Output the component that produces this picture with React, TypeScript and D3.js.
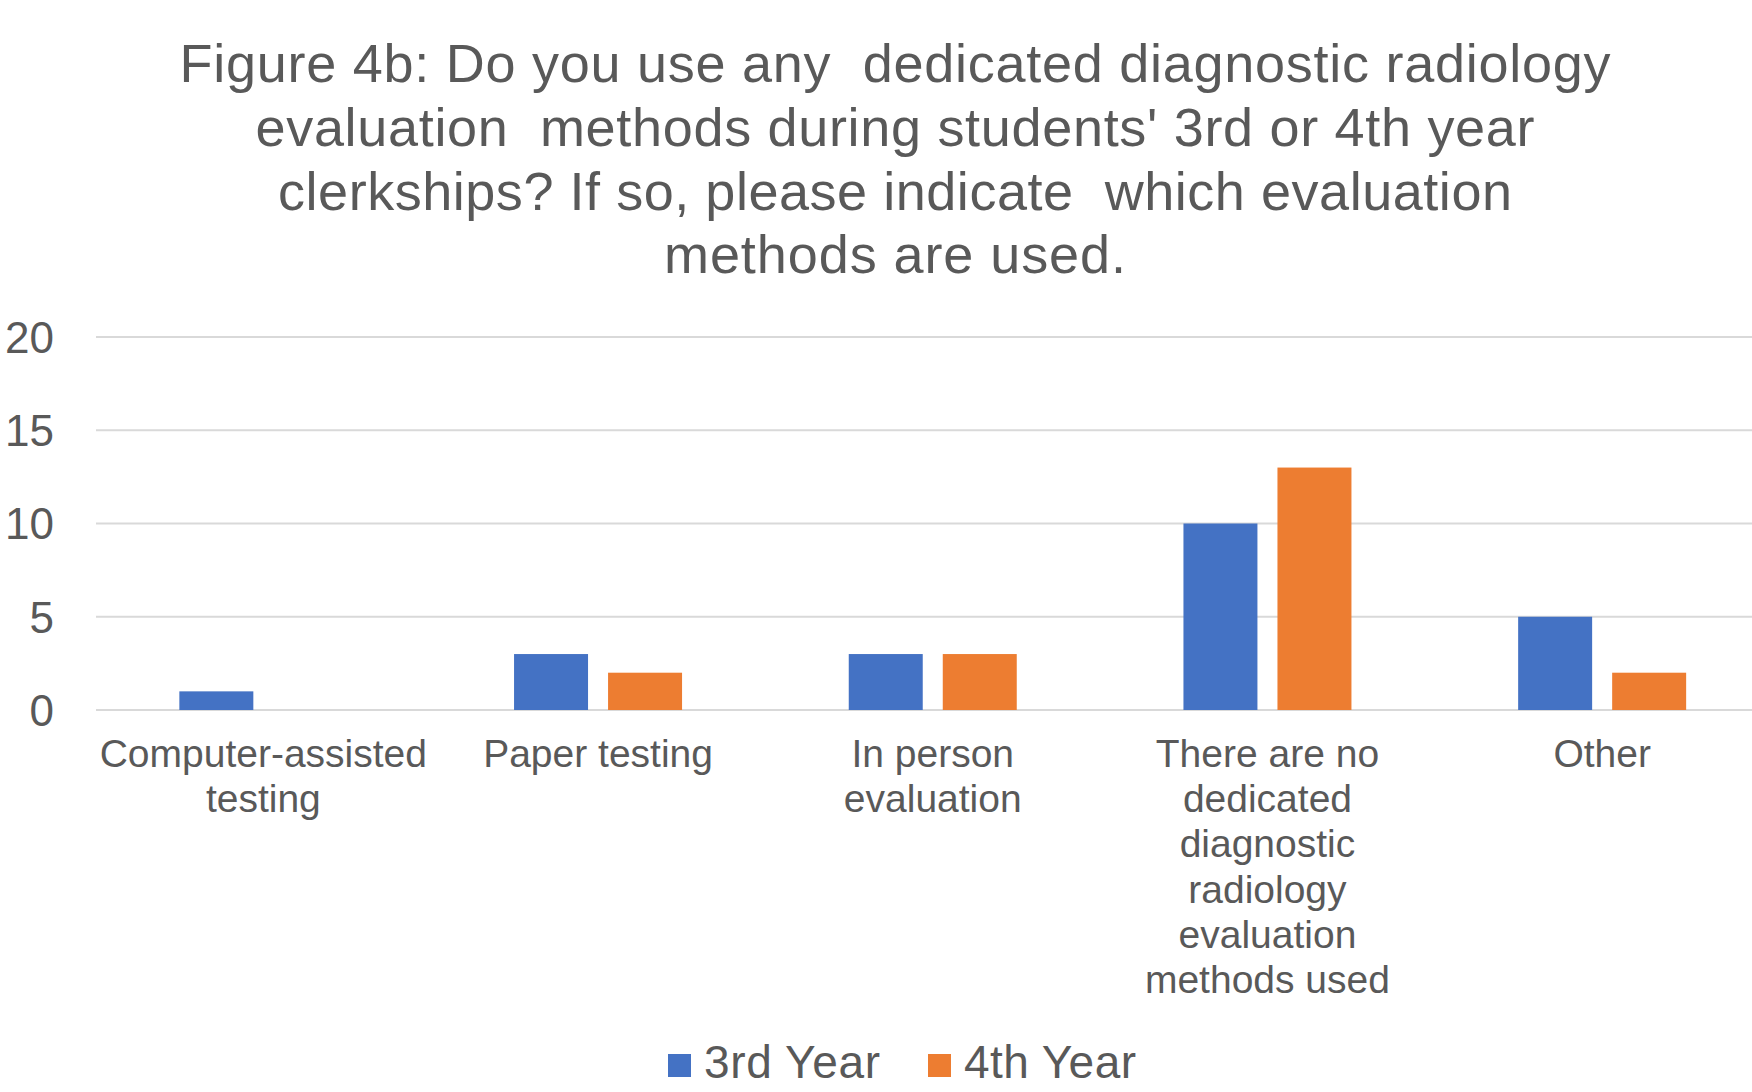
import React from "react";
import * as d3 from "d3";

// Survey answers per evaluation method
const categories = [
  "Computer-assisted testing",
  "Paper testing",
  "In person evaluation",
  "There are no dedicated diagnostic radiology evaluation methods used",
  "Other",
];
const categoryLines = [
  ["Computer-assisted", "testing"],
  ["Paper testing"],
  ["In person", "evaluation"],
  ["There are no", "dedicated", "diagnostic", "radiology", "evaluation", "methods used"],
  ["Other"],
];
const seriesNames = ["3rd Year", "4th Year"];
const thirdYear = [1, 3, 3, 10, 5];
const fourthYear = [0, 2, 3, 13, 2];
const yTicks = [0, 5, 10, 15, 20];
const titleLines = [
  "Figure 4b: Do you use any  dedicated diagnostic radiology",
  "evaluation  methods during students' 3rd or 4th year",
  "clerkships? If so, please indicate  which evaluation",
  "methods are used.",
];

const W = 1752;
const H = 1092;
const FONT = "'Liberation Sans', Arial, sans-serif";
const TEXT = "#595959";
const GRID = "#D9D9D9";
const COLORS = ["#4472C4", "#ED7D31"];

export default function App() {
  const x0 = d3.scaleBand<string>().domain(categories).range([96, 1769.5]).padding(0);
  const groupW = 168;
  const bw0 = x0.bandwidth();
  const x1 = d3
    .scaleBand<string>()
    .domain(seriesNames)
    .range([(bw0 - groupW) / 2, (bw0 + groupW) / 2])
    .paddingInner(0.213)
    .paddingOuter(0);
  const y = d3.scaleLinear().domain([0, 20]).range([710, 337]);

  const series = [thirdYear, fourthYear];
  const titleWidths = [1431, 1279, 1234, 462];
  const titleBaselines = [82, 146, 210, 273];
  const legendWidths = [176, 172];

  return (
    <svg
      width={W}
      height={H}
      viewBox={`0 0 ${W} ${H}`}
      style={{ position: "absolute", left: 0, top: 0, background: "#fff" }}
    >
      <rect width={W} height={H} fill="#fff" />
      {/* title */}
      <g fontFamily={FONT} fontSize={54} fill={TEXT} textAnchor="middle">
        {titleLines.map((t, i) => (
          <text
            key={i}
            x={895}
            y={titleBaselines[i]}
            textLength={titleWidths[i]}
            lengthAdjust="spacing"
            style={{ whiteSpace: "pre" }}
          >
            {t}
          </text>
        ))}
      </g>

      {/* gridlines */}
      <g>
        {yTicks.map((t) => (
          <line
            key={t}
            x1={x0.range()[0]}
            x2={x0.range()[1]}
            y1={y(t)}
            y2={y(t)}
            stroke={GRID}
            strokeWidth={2}
          />
        ))}
      </g>

      {/* y tick labels */}
      <g fontFamily={FONT} fontSize={44} fill={TEXT} textAnchor="end">
        {yTicks.map((t) => (
          <text key={t} x={54} y={y(t)} dy="0.36em">
            {t}
          </text>
        ))}
      </g>

      {/* bars */}
      {series.map((vals, si) => (
        <g key={si} fill={COLORS[si]}>
          {categories.map((c, ci) => {
            const v = vals[ci];
            if (!v) return null;
            return (
              <rect
                key={c}
                x={(x0(c) ?? 0) + (x1(seriesNames[si]) ?? 0)}
                y={y(v)}
                width={x1.bandwidth()}
                height={y(0) - y(v)}
              />
            );
          })}
        </g>
      ))}

      {/* category labels */}
      <g fontFamily={FONT} fontSize={39} fill={TEXT} textAnchor="middle">
        {categories.map((c, ci) => (
          <text key={c} x={(x0(c) ?? 0) + bw0 / 2} y={767}>
            {categoryLines[ci].map((ln, li) => (
              <tspan key={li} x={(x0(c) ?? 0) + bw0 / 2} dy={li === 0 ? 0 : 45.2}>
                {ln}
              </tspan>
            ))}
          </text>
        ))}
      </g>

      {/* legend */}
      <g fontFamily={FONT} fontSize={46} fill={TEXT}>
        {seriesNames.map((s, i) => {
          const lx = [668, 928][i];
          return (
            <g key={s}>
              <rect x={lx} y={1054} width={23} height={23} fill={COLORS[i]} />
              <text
                x={lx + 36}
                y={1078}
                textLength={legendWidths[i]}
                lengthAdjust="spacing"
              >
                {s}
              </text>
            </g>
          );
        })}
      </g>
    </svg>
  );
}
